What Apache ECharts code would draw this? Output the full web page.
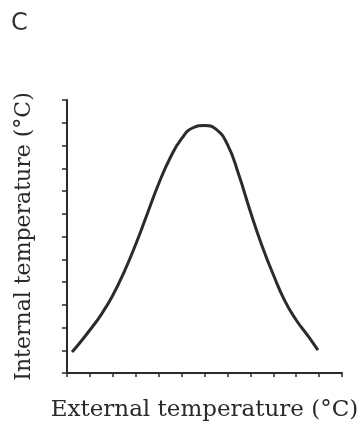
<!DOCTYPE html>
<html lang="en">
<head>
    <meta charset="UTF-8">
    <title>Internal vs external temperature</title>
    <style>
        html, body { margin: 0; padding: 0; background: #fff; }
        #chart { width: 363px; height: 430px; }
    </style>
</head>
<body>
<div id="chart"></div>
<script src="https://cdn.jsdelivr.net/npm/echarts@6/dist/echarts.min.js"></script>
<script type="text/javascript">
    // values (axis units = tick marks, 0..12)
    var extTemp = [0.22, 0.5, 1.0, 1.5, 2.0, 2.5, 3.0, 3.5, 4.0, 4.5, 5.0, 5.5, 6.0, 6.5, 7.0, 7.5, 8.0, 8.5, 9.0, 9.5, 10.0, 10.5, 10.95];
    var intTemp = [0.92, 1.25, 1.89, 2.58, 3.42, 4.46, 5.66, 6.99, 8.32, 9.45, 10.3, 10.78, 10.88, 10.72, 10.05, 8.7, 7.1, 5.62, 4.33, 3.18, 2.33, 1.65, 1.01];
    var panelLabel = 'C';
    var xName = 'External temperature (°C)';
    var yName = 'Internal temperature (°C)';

    var points = [];
    for (var i = 0; i < extTemp.length; i++) {
        points.push([extTemp[i], intTemp[i]]);
    }

    var ink = '#2b2b2b';
    var serif = '"DejaVu Serif", serif';

    var myChart = echarts.init(document.getElementById('chart'));
    var option = {
        animation: false,
        backgroundColor: '#fff',
        title: {
            text: panelLabel,
            left: 6,
            top: 7,
            textStyle: { fontFamily: '"DejaVu Sans", sans-serif', fontSize: 24, fontWeight: 'normal', color: '#333' }
        },
        grid: { left: 67, right: 21, top: 100, bottom: 57 },
        xAxis: {
            type: 'value',
            min: 0,
            max: 12,
            interval: 1,
            name: xName,
            nameLocation: 'middle',
            nameGap: 26,
            nameTextStyle: { fontFamily: serif, fontSize: 23, color: '#2a2a2a' },
            axisLine: { lineStyle: { color: ink, width: 2 } },
            axisTick: { show: true, inside: false, length: 4, lineStyle: { color: ink, width: 1.5 } },
            axisLabel: { show: false },
            splitLine: { show: false }
        },
        yAxis: {
            type: 'value',
            min: 0,
            max: 12,
            interval: 1,
            name: yName,
            nameLocation: 'middle',
            nameGap: 32,
            nameTextStyle: { fontFamily: serif, fontSize: 22, color: '#2a2a2a' },
            axisLine: { lineStyle: { color: ink, width: 2 } },
            axisTick: { show: true, inside: false, length: 5, lineStyle: { color: ink, width: 1.5 } },
            axisLabel: { show: false },
            splitLine: { show: false }
        },
        series: [{
            type: 'line',
            data: points,
            smooth: 0.5,
            symbol: 'none',
            lineStyle: { color: ink, width: 3 }
        }]
    };
    myChart.setOption(option);
</script>
</body>
</html>
